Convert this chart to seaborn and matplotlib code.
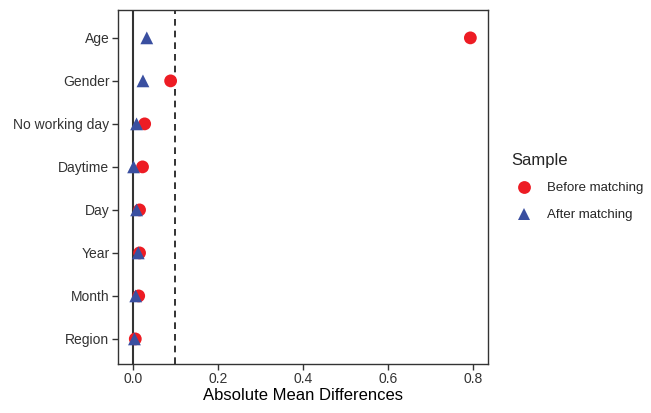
import pandas as pd
import matplotlib
matplotlib.use("Agg")
import matplotlib.pyplot as plt
import seaborn as sb

# values
covariates = ["Age", "Gender", "No working day", "Daytime", "Day", "Year", "Month", "Region"]
before = [0.793, 0.089, 0.028, 0.023, 0.016, 0.016, 0.014, 0.006]
after = [0.033, 0.024, 0.009, 0.002, 0.009, 0.013, 0.007, 0.004]
samples = ["Before matching", "After matching"]

data = pd.DataFrame({
    "covariate": covariates * 2,
    "diff": before + after,
    "Sample": [samples[0]] * len(covariates) + [samples[1]] * len(covariates),
})

sb.set_style("white")
plt.rcParams["font.family"] = ["Liberation Sans", "DejaVu Sans"]

fig = plt.figure(figsize=(6.51, 4.13), dpi=100)
ax = fig.add_axes([0.181, 0.119, 0.569, 0.857])

ax.axvline(0, color="#333333", lw=1.5, zorder=1)
ax.axvline(0.1, color="#111111", lw=1.2, ls=(0, (4, 3)), zorder=1)

sb.scatterplot(data=data, x="diff", y="covariate", hue="Sample", style="Sample",
               hue_order=samples, style_order=samples,
               palette={"Before matching": "#ED1C24", "After matching": "#3A4FA0"},
               markers={"Before matching": "o", "After matching": "^"},
               s=85, edgecolor="none", linewidth=0, ax=ax, zorder=3)

ax.set_xlim(-0.035, 0.835)
ax.set_ylim(7.58, -0.65)
ax.set_xticks([0.0, 0.2, 0.4, 0.6, 0.8])
ax.set_xticklabels(["0.0", "0.2", "0.4", "0.6", "0.8"])
ax.tick_params(axis="both", length=4, width=1, color="#333333", labelsize=10,
               labelcolor="#333333", direction="out", pad=2, left=True, bottom=True)
for sp in ax.spines.values():
    sp.set_color("#333333")
    sp.set_linewidth(1.0)

ax.set_xlabel("Absolute Mean Differences", fontsize=12, color="black", labelpad=1)
ax.set_ylabel("")

ax.legend(title="Sample", loc="upper left", bbox_to_anchor=(1.03, 0.63), frameon=False,
          fontsize=9.5, title_fontsize=12, markerscale=1.0, handletextpad=0.7,
          labelspacing=1.1, alignment="left")

plt.savefig("out.png", dpi=100)
